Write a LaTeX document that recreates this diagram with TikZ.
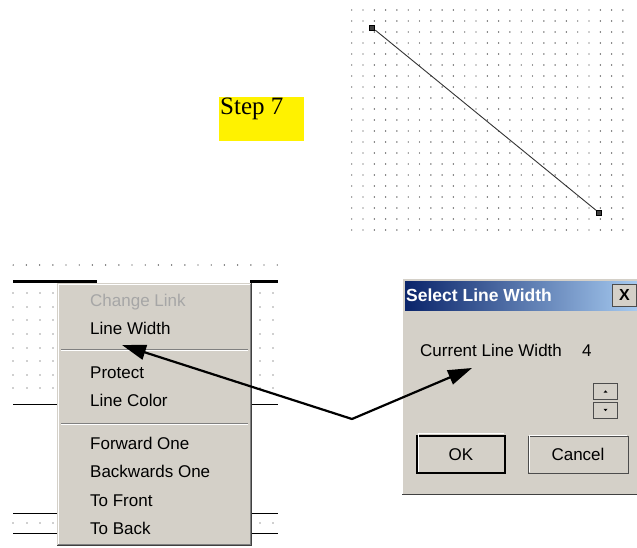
\documentclass[tikz,border=0pt]{standalone}
\usepackage{fontspec}
\setmainfont{Liberation Serif}
\newfontfamily\uifont{Liberation Sans}
\usepackage{xcolor}
\usetikzlibrary{arrows.meta, positioning}

\definecolor{wingray}{HTML}{D4D0C8}
\definecolor{windark}{HTML}{808080}
\definecolor{titleblue}{HTML}{0A246A}
\definecolor{titlelight}{HTML}{A6CAF0}
\definecolor{griddot}{HTML}{333333}

\begin{document}
\begin{tikzpicture}[x=1pt, y=-1pt,
  item/.style={anchor=west, inner sep=0pt, font=\uifont\fontsize{17}{20}\selectfont, text height=12.5pt, text depth=3.5pt},
  greyed/.style={item, text=black!35},
  handle/.style={draw=black, fill=black!75, line width=1pt, minimum size=5pt, inner sep=0pt},
  btn/.style={draw=black!70, fill=wingray, inner sep=0pt, font=\uifont\fontsize{17}{20}\selectfont},
  spin/.style={draw=black!70, fill=wingray, inner sep=0pt, minimum width=24pt, minimum height=16pt},
  pointer/.style={line width=2.2pt, line cap=round, -{Triangle[length=24pt, width=15pt]}},
]
\useasboundingbox (0,0) rectangle (637,548);

% Step label
\node[fill=yellow, anchor=north west, minimum width=85pt, minimum height=44pt, inner sep=0pt] (stepbox) at (219,97) {};
\node[anchor=north west, inner sep=1pt, font=\fontsize{25}{28}\selectfont] (step7) at (stepbox.north west) {Step 7};

% Canvas with line (top right)
\foreach \i in {0,...,24}
  \foreach \j in {0,...,20}
    \fill[griddot] (351.7+11.3*\i, 10+11*\j) circle (0.7);
\node[handle] (lnA) at (372.3,27.7) {};
\node[handle] (lnB) at (599,212.7) {};
\draw[line width=0.9pt, black!80] (lnA) -- (lnB);

% Canvas behind the menu (bottom left)
\foreach \i in {0,...,20}
  \fill[griddot] (13.2+13.2*\i, 265) circle (0.7);
\foreach \y in {293,307,320,334,348,361,375,388,523}
  \foreach \x in {13,27,40,53,260,273}
    \fill[griddot] (\x,\y) circle (0.7);
\draw[line width=3pt] (13,281.5) -- (97,281.5);
\draw[line width=3pt] (250,281.5) -- (278,281.5);
\foreach \y in {404,513,533} {
  \draw[line width=1pt] (13,\y) -- (57,\y);
  \draw[line width=1pt] (252,\y) -- (278,\y);
}

% Context menu
\fill[wingray] (57,283) rectangle (252,546);
\draw[white] (58.5,544) -- (58.5,284.5) -- (250,284.5);
\draw[windark] (58,544.5) -- (250.5,544.5) -- (250.5,284);
\draw[black!75] (57,545.5) -- (251.5,545.5) -- (251.5,283);
\node[greyed] (chlink) at (90,302) {Change Link};
\node[item] (lnwidth) at (90,330) {Line Width};
\draw[windark] (61,349) -- (248,349);
\draw[white] (61,350) -- (248,350);
\node[item] (protect) at (90,374) {Protect};
\node[item] (lncolor) at (90,402) {Line Color};
\draw[windark] (61,423) -- (248,423);
\draw[white] (61,424) -- (248,424);
\node[item] (fwdone) at (90,445) {Forward One};
\node[item] (bwdone) at (90,473) {Backwards One};
\node[item] (tofront) at (90,502) {To Front};
\node[item] (toback) at (90,530) {To Back};

% Dialog
\fill[wingray] (402,278) rectangle (637,495);
\draw[white] (402.5,494) -- (402.5,278.5) -- (637,278.5);
\draw[black!75] (402,494.5) -- (637,494.5);
\shade[left color=titleblue, right color=titlelight] (405,281) rectangle (637,310);
\node[anchor=west, inner sep=0pt, text=white, font=\uifont\bfseries\fontsize{17.5}{20}\selectfont] (dlgtitle) at (406,295.5) {Select Line Width};
\node[btn, minimum width=24pt, minimum height=22pt, font=\uifont\bfseries\fontsize{16}{18}\selectfont] (closebtn) at (624.5,295) {X};
\node[item] (curlw) at (420,352) {Current Line Width};
\node[item] (curval) at (582,352) {4};
\node[spin] (spinup) at (605.5,391.5) {};
\node[spin] (spindn) at (605.5,410) {};
\fill ([shift={(-2,1.2)}]spinup.center) -- ++(4,0) -- ++(-2,-2.4) -- cycle;
\fill ([shift={(-2,-1.2)}]spindn.center) -- ++(4,0) -- ++(-2,2.4) -- cycle;
\node[btn, draw=black, line width=1.3pt, minimum width=88pt, minimum height=37pt] (okbtn) at (461,454.5) {OK};
\node[btn, minimum width=100pt, minimum height=37pt] (cancelbtn) at (578,454.5) {Cancel};
\draw[white] ([shift={(2,-2)}]okbtn.south west) |- ([shift={(-2,-2)}]okbtn.north east);
\draw[white] ([shift={(1,-1)}]cancelbtn.south west) |- ([shift={(-1,-1)}]cancelbtn.north east);

% Pointers
\coordinate (src) at (352,419);
\coordinate (tipmenu) at (122,345);
\coordinate (tipdlg) at (472,368);
\draw[pointer] (src) -- (tipmenu);
\draw[pointer] (src) -- (tipdlg);
\end{tikzpicture}
\end{document}
